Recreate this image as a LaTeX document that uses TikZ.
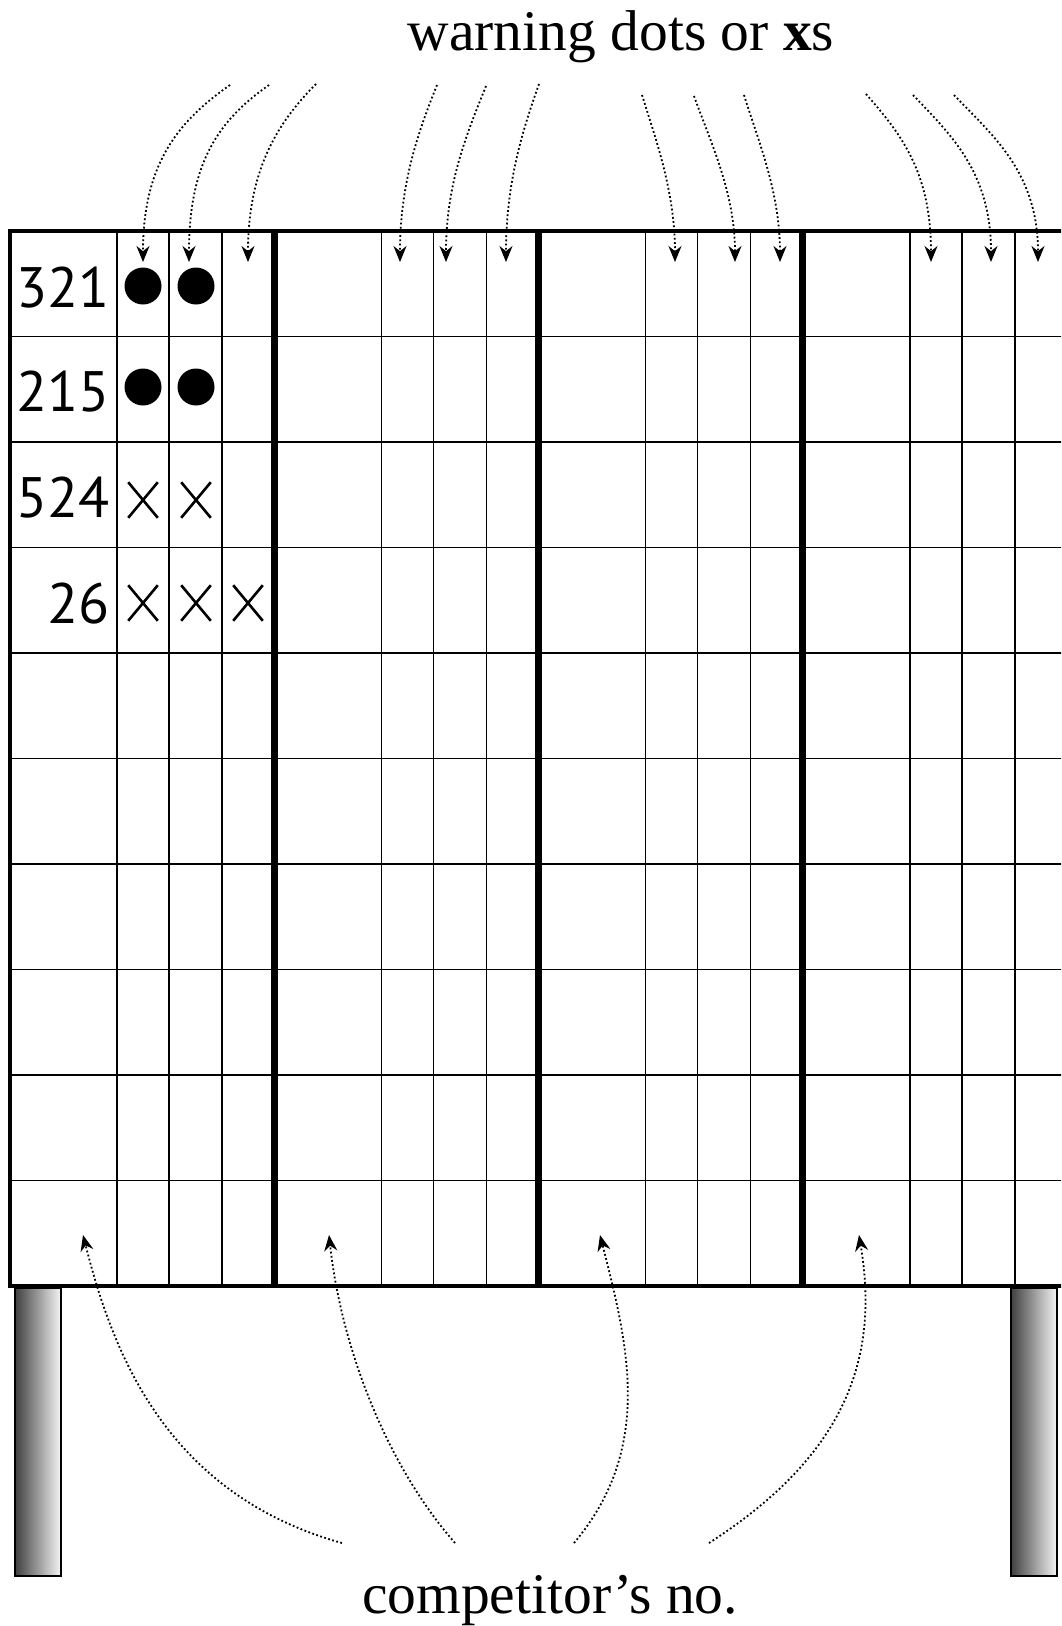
\documentclass[tikz,border=0pt]{standalone}
\usepackage{fontspec}
\setmainfont{Liberation Serif}
\newfontfamily\digitfont{PT Sans}
\usepackage{tikz}
\usetikzlibrary{arrows.meta, shapes.misc}

\begin{document}
\begin{tikzpicture}[
  x=1pt, y=-1pt,
  every node/.style={inner sep=0pt},
  caption/.style={font=\fontsize{57.5}{62}\selectfont},
  entry/.style={font=\digitfont\fontsize{57}{60}\selectfont, anchor=base east},
  cellline/.style={line width=1.5pt},
  divider/.style={line width=7pt},
  frame/.style={line width=4.5pt},
  leg/.style={draw, line width=2.5pt, left color=black!75, right color=black!4},
  dot/.style={circle, fill, minimum size=37pt},
  xmark/.style={cross out, draw, line width=2.6pt, minimum width=27pt, minimum height=33pt},
  warnarrow/.style={-{Stealth[length=16pt,width=13pt]}, line width=1.8pt,
    dash pattern=on 1.8pt off 2.4pt},
]
\useasboundingbox (0,0) rectangle (1061,1626);
\clip (0,0) rectangle (1061,1626);

% Legs
\draw[leg] (15,1288) rectangle (61,1576);
\draw[leg] (1011,1288) rectangle (1057,1576);

% Grid
\foreach \r in {1,...,9}
  \draw[cellline] (10,{231+105.5*\r}) -- (1070,{231+105.5*\r});
\foreach \b in {0,...,3}
  \foreach \c in {107,159,212}
    \draw[cellline] ({10+264.3*\b+\c},231) -- ({10+264.3*\b+\c},1286);
\foreach \b in {1,2,3}
  \draw[divider] ({10+264.3*\b},231) -- ({10+264.3*\b},1286);
\draw[frame] (1070,231) -- (10,231) -- (10,1286) -- (1070,1286);

% Entries
\node[entry] (n321) at (110,307) {321};
\node[entry] (n215) at (110,411) {215};
\node[entry] (n524) at (110,517) {524};
\node[entry] (n26) at (110,623) {26};

\node[dot] (a1) at (143,286) {};
\node[dot] (a2) at (196,286) {};
\node[dot] (b1) at (143,387) {};
\node[dot] (b2) at (196,387) {};
\node[xmark] (c1) at (143,500) {};
\node[xmark] (c2) at (196,500) {};
\node[xmark] (d1) at (143,603) {};
\node[xmark] (d2) at (196,603) {};
\node[xmark] (d3) at (248,603) {};

% Labels
\node[caption, anchor=base] (warn) at (621,50) {warning dots or \textbf{x}s};
\node[caption, anchor=base] (comp) at (550,1613) {competitor's no.};

% Warning arrows
\foreach \i/\sx/\sy/\tx/\cx/\cy/\ch in {
  1/230/85/143/-50/35/100, 2/269/85/189/-50/35/100, 3/316/84/248/-40/40/90,
  4/437/85/400/-18/45/80, 5/486/86/446/-18/45/80, 6/539/84/506/-16/45/80,
  7/642/95/675/14/45/70, 8/694/96/735/16/45/70, 9/744/95/780/14/45/70,
  10/866/94/931/35/40/90, 11/913/95/991/38/40/90, 12/954/95/1038/38/40/90}
{
  \coordinate (w\i) at (\sx,\sy);
  \coordinate (t\i) at (\tx,262);
  \draw[warnarrow] (w\i) .. controls +(\cx,\cy) and +(0,-\ch) .. (t\i);
}

% Number arrows
\foreach \i/\sx/\tx/\ax/\ay/\bx/\by in {
  1/342/83/-180/-50/28/110, 2/455/329/-70/-80/12/110,
  3/574/600/80/-95/28/110, 4/709/859/140/-90/20/120}
{
  \coordinate (s\i) at (\sx,1543);
  \coordinate (e\i) at (\tx,1235);
  \draw[warnarrow] (s\i) .. controls +(\ax,\ay) and +(\bx,\by) .. (e\i);
}

\end{tikzpicture}
\end{document}
